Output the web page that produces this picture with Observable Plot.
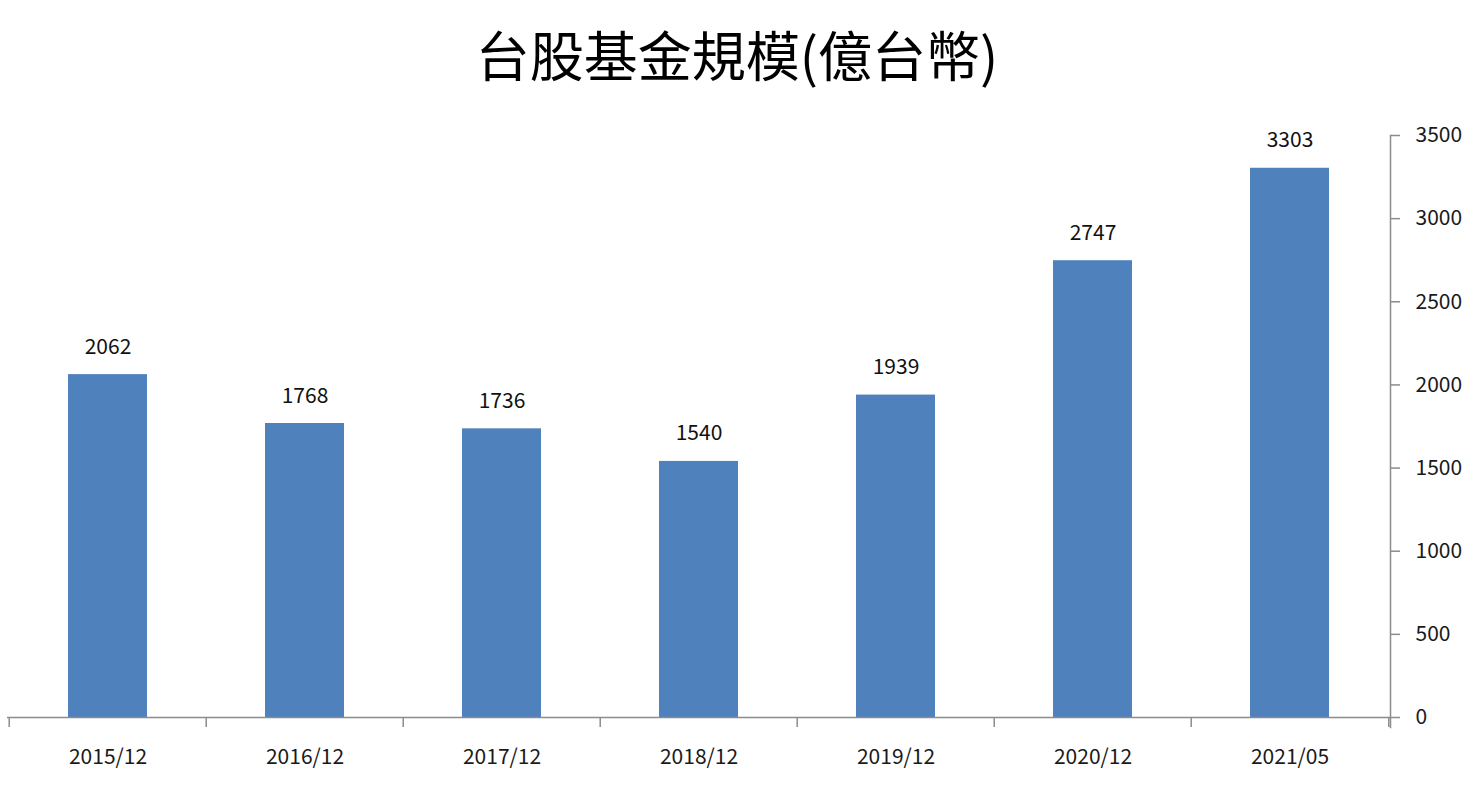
<!DOCTYPE html>
<html>
<head>
<meta charset="utf-8">
<script src="https://cdn.jsdelivr.net/npm/d3@7"></script>
<script src="https://cdn.jsdelivr.net/npm/@observablehq/plot@0.6"></script>
<style>
  html, body { margin: 0; padding: 0; background: #fff; }
  #title { height: 100px; font-family: "Noto Sans CJK TC", sans-serif; font-size: 54px; font-weight: 400; color: #000; text-align: center; line-height: 108px; box-sizing: border-box; }
  svg { display: block; }
</style>
</head>
<body>
<div id="title">台股基金規模(億台幣)</div>
<div id="chart"></div>
<script>
const categories = ["2015/12", "2016/12", "2017/12", "2018/12", "2019/12", "2020/12", "2021/05"];
const values = [2062, 1768, 1736, 1540, 1939, 2747, 3303];
const yTicks = [0, 500, 1000, 1500, 2000, 2500, 3000, 3500];

const data = categories.map((c, i) => ({ period: c, value: values[i] }));

const width = 1474, height = 688;
const marginLeft = 7, marginRight = 84, marginTop = 35, marginBottom = 71;
const step = (width - marginLeft - marginRight) / categories.length;
const axisGray = "#8c8c8c";
const font = "'Noto Sans CJK TC', 'Noto Sans', sans-serif";

const chart = Plot.plot({
  width, height, marginLeft, marginRight, marginTop, marginBottom,
  style: { fontFamily: font, fontSize: "21px", color: "#1a1a1a", background: "#fff" },
  x: { type: "band", domain: categories, paddingInner: 0.6, paddingOuter: 0.3, align: 0.5, label: null },
  y: { domain: [0, 3500], label: null },
  marks: [
    Plot.barY(data, { x: "period", y: "value", fill: "#4f81bd" }),
    Plot.text(data, { x: "period", y: "value", text: d => String(d.value), dy: -21, lineAnchor: "bottom", fontSize: 21, fill: "#111" }),
    Plot.ruleY([0], { stroke: axisGray, strokeWidth: 1.5 }),
    Plot.frame({ anchor: "right", stroke: axisGray, strokeWidth: 1.5, insetBottom: -10 }),
    Plot.axisY({ anchor: "right", ticks: yTicks, tickFormat: d => String(d), tickSize: 9, tickPadding: 16, stroke: axisGray, strokeWidth: 1.5, fontSize: 21, fill: "#1a1a1a", label: null }),
    Plot.axisX({ anchor: "bottom", tickSize: 0, tickPadding: 32, fontSize: 21, fill: "#1a1a1a", label: null }),
    Plot.axisX(categories, { anchor: "bottom", tickSize: 10, text: null, dx: -step / 2, stroke: axisGray, strokeWidth: 1.5, label: null }),
    Plot.axisX([categories[categories.length - 1]], { anchor: "bottom", tickSize: 10, text: null, dx: step / 2, stroke: axisGray, strokeWidth: 1.5, label: null })
  ]
});
document.getElementById("chart").appendChild(chart);
</script>
</body>
</html>
